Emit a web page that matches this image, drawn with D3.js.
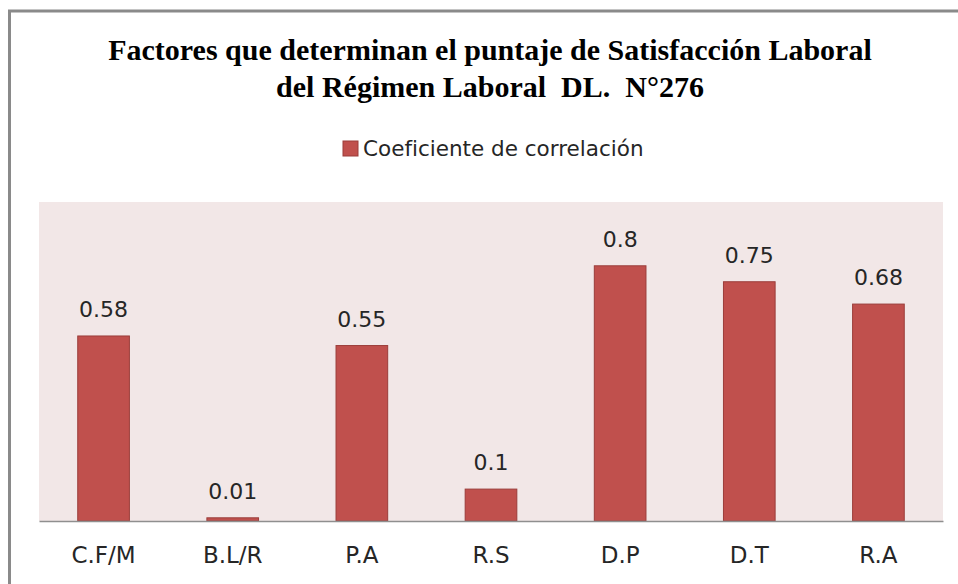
<!DOCTYPE html>
<html lang="es">
<head>
    <meta charset="UTF-8">
    <title>Factores que determinan el puntaje de Satisfacción Laboral</title>
    <script src="https://d3js.org/d3.v7.min.js"></script>
    <style>
        body { margin: 0; background: #fff; }
        svg { display: block; }
        .title { font-family: 'Liberation Serif', serif; font-size: 30px; font-weight: bold; fill: #000; white-space: pre; }
        .legend-text { font-family: 'DejaVu Sans', sans-serif; font-size: 21.5px; fill: #262626; }
        .value { font-family: 'DejaVu Sans', sans-serif; font-size: 22px; fill: #262626; }
        .tick-label { font-family: 'DejaVu Sans', sans-serif; font-size: 23px; fill: #262626; }
    </style>
</head>
<body>
<div id="chart"></div>
<script>
    // data
    const categories = ['C.F/M', 'B.L/R', 'P.A', 'R.S', 'D.P', 'D.T', 'R.A'];
    const values = [0.58, 0.01, 0.55, 0.1, 0.8, 0.75, 0.68];
    const seriesName = 'Coeficiente de correlación';
    const titleLines = [
        'Factores que determinan el puntaje de Satisfacción Laboral',
        'del Régimen Laboral  DL.  N°276'
    ];

    const width = 958;
    const height = 584;
    const plot = { left: 39, right: 943, top: 202, bottom: 521 };

    const svg = d3.select('#chart')
        .append('svg')
        .attr('width', width)
        .attr('height', height);

    // chart frame (only left and top edges are visible)
    svg.append('path')
        .attr('d', `M9.5,${height} V11 H${width}`)
        .attr('fill', 'none')
        .attr('stroke', '#8a8a8a')
        .attr('stroke-width', 3);

    // title
    svg.append('text')
        .attr('class', 'title')
        .attr('text-anchor', 'middle')
        .selectAll('tspan')
        .data(titleLines)
        .enter()
        .append('tspan')
        .attr('x', 490)
        .attr('y', (d, i) => 60 + i * 37)
        .text(d => d);

    // legend
    const legend = svg.append('g').attr('transform', 'translate(343, 141)');
    legend.append('rect')
        .attr('width', 15)
        .attr('height', 15)
        .attr('fill', '#C0504D')
        .attr('stroke', '#9B3D3A');
    legend.append('text')
        .attr('class', 'legend-text')
        .attr('x', 20)
        .attr('y', 15)
        .text(seriesName);

    // scales
    const x = d3.scaleBand()
        .domain(categories)
        .range([plot.left, plot.right])
        .paddingInner(0.6)
        .paddingOuter(0.3);

    const y = d3.scaleLinear()
        .domain([0, 1])
        .range([plot.bottom, plot.top]);

    // plot area background
    svg.append('rect')
        .attr('x', plot.left)
        .attr('y', plot.top)
        .attr('width', plot.right - plot.left)
        .attr('height', plot.bottom - plot.top)
        .attr('fill', '#F2E7E7');

    // bars
    svg.selectAll('.bar')
        .data(values)
        .enter()
        .append('rect')
        .attr('class', 'bar')
        .attr('x', (d, i) => x(categories[i]))
        .attr('y', d => y(d))
        .attr('width', x.bandwidth())
        .attr('height', d => y(0) - y(d))
        .attr('fill', '#C0504D')
        .attr('stroke', '#9B3D3A')
        .attr('stroke-width', 1);

    // value labels
    svg.selectAll('.value')
        .data(values)
        .enter()
        .append('text')
        .attr('class', 'value')
        .attr('text-anchor', 'middle')
        .attr('x', (d, i) => x(categories[i]) + x.bandwidth() / 2)
        .attr('y', d => y(d) - 19)
        .text(d => d);

    // x axis
    const xAxis = svg.append('g')
        .attr('transform', `translate(0, ${plot.bottom})`)
        .call(d3.axisBottom(x).tickSize(0).tickPadding(0));
    xAxis.attr('font-family', null).attr('font-size', null);
    xAxis.select('.domain')
        .attr('stroke', '#8f8f8f')
        .attr('stroke-width', 1.5);
    xAxis.selectAll('.tick text')
        .attr('class', 'tick-label')
        .attr('dy', null)
        .attr('y', 42)
        .attr('fill', null);
</script>
</body>
</html>
